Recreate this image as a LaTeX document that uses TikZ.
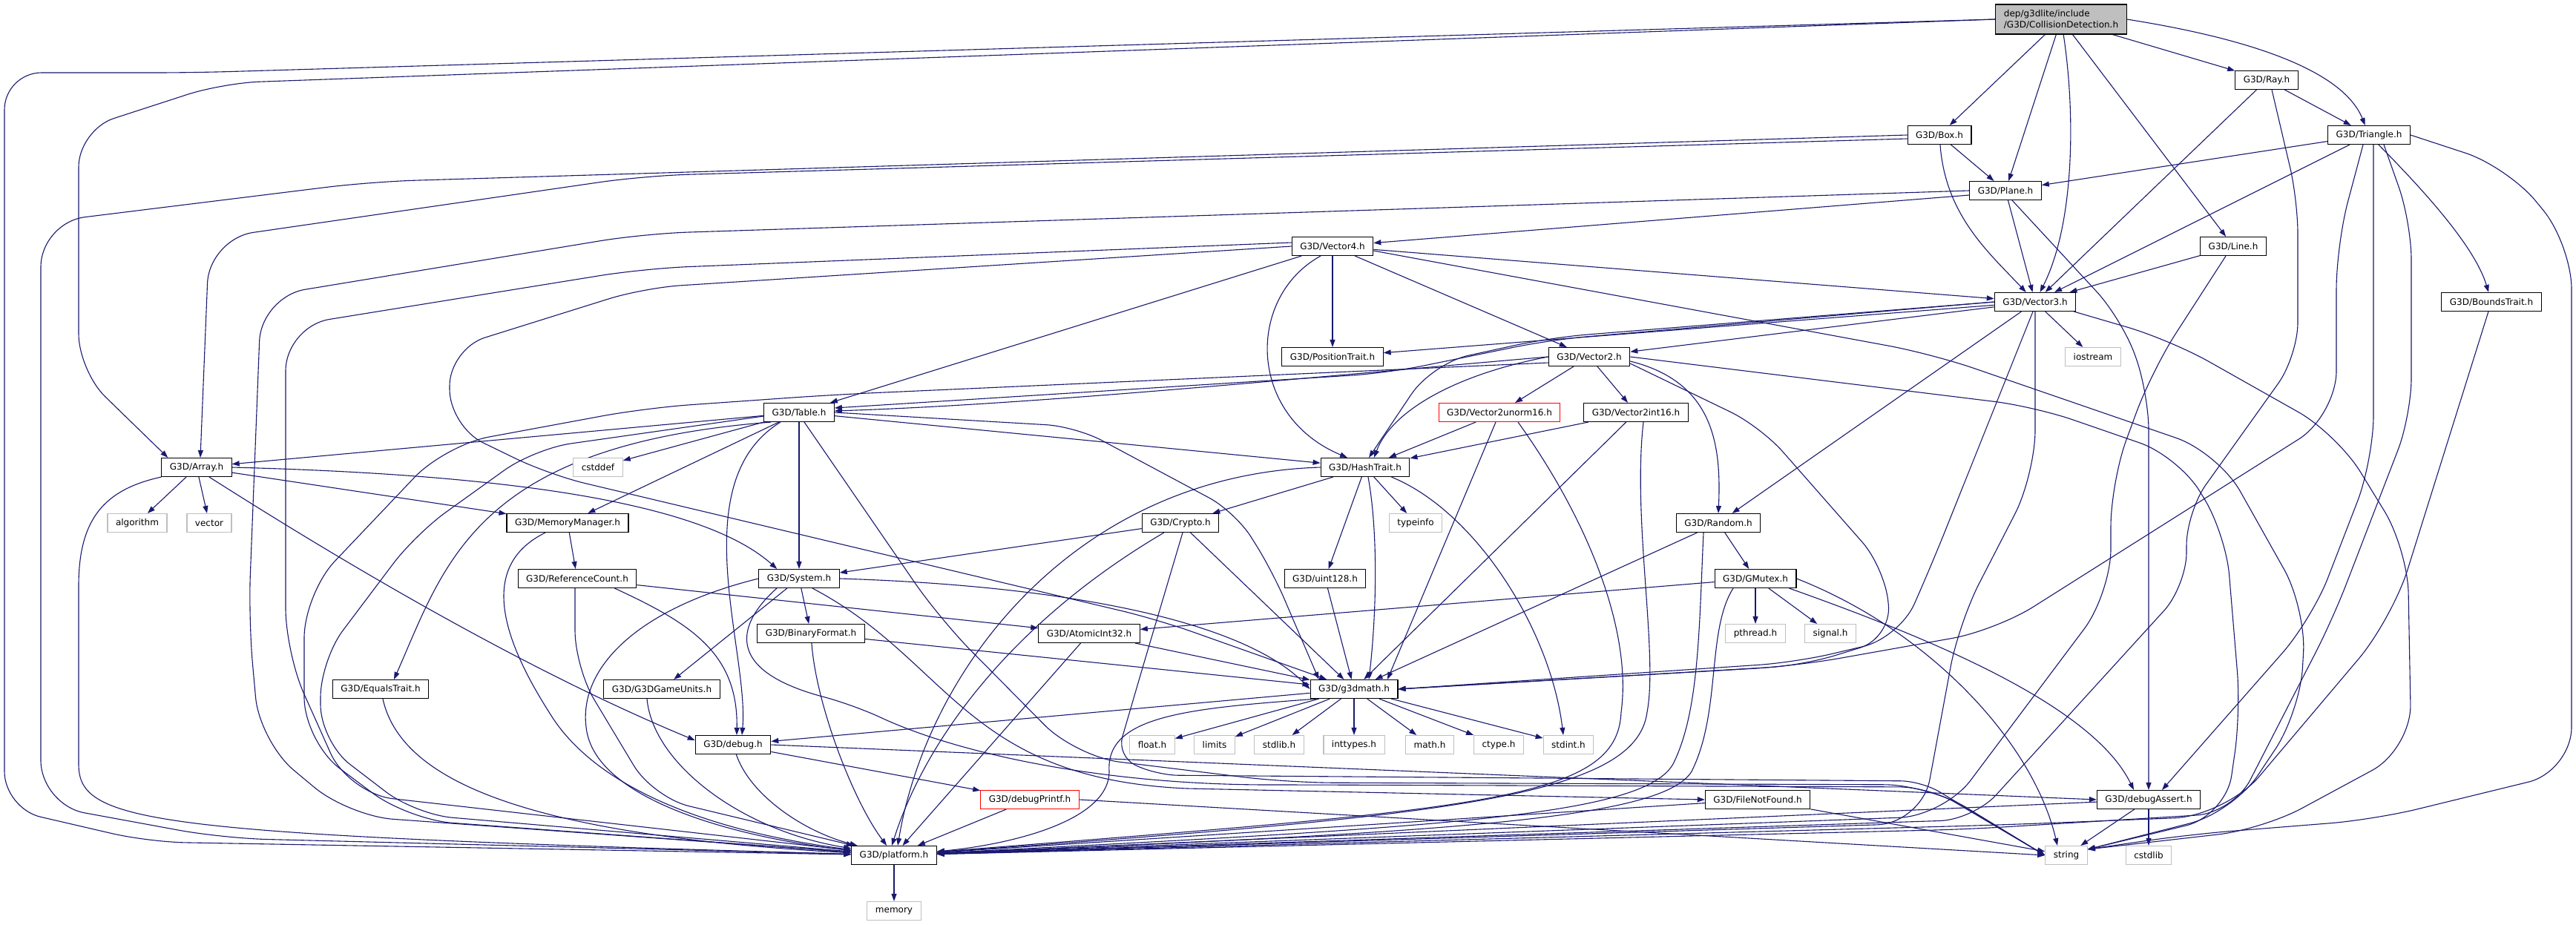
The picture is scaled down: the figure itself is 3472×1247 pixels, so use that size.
\documentclass[tikz,border=0pt]{standalone}
\usepackage{fontspec}
\setmainfont{DejaVu Sans}
\usetikzlibrary{arrows.meta,calc}
\definecolor{edgecol}{HTML}{191970}
\definecolor{sysgray}{HTML}{BFBFBF}
\pgfdeclarelayer{bg}
\pgfdeclarelayer{edges}
\pgfsetlayers{bg,edges,main}
\tikzset{
  nbox/.style={draw=black, fill=white, line width=1.1pt, minimum height=25pt, inner xsep=11pt, inner ysep=0pt, font=\fontsize{12}{15}\selectfont},
  hdr/.style={nbox},
  sys/.style={nbox, draw=sysgray},
  redb/.style={nbox, draw=red},
  rootb/.style={nbox, fill=sysgray, minimum height=40pt, align=left},
  e/.style={draw=edgecol, line width=1.1pt, -{Triangle[length=10pt,width=7pt]}},
}
\begin{document}
\begin{tikzpicture}[x=1pt,y=-1pt]
\useasboundingbox (0,0) rectangle (3472,1247);
\begin{pgfonlayer}{bg}
\fill[white] (0,0) rectangle (3472,1247);
\end{pgfonlayer}

\node[rootb] (CD) at (2778,26) {dep/g3dlite/include\\/G3D/CollisionDetection.h};
\node[hdr] (Ray) at (3055,108) {G3D/Ray.h};
\node[hdr] (Box) at (2614,182) {G3D/Box.h};
\node[hdr] (Tri) at (3193,182) {G3D/Triangle.h};
\node[hdr] (Plane) at (2703,257) {G3D/Plane.h};
\node[hdr] (Line) at (3010,332) {G3D/Line.h};
\node[hdr] (Vec4) at (1796,332) {G3D/Vector4.h};
\node[hdr] (Vec3) at (2743,407) {G3D/Vector3.h};
\node[hdr] (Bounds) at (3358,407) {G3D/BoundsTrait.h};
\node[hdr] (PosT) at (1796,481) {G3D/PositionTrait.h};
\node[hdr] (Vec2) at (2142,481) {G3D/Vector2.h};
\node[sys] (iostream) at (2821,481) {iostream};
\node[hdr] (Table) at (1077,556) {G3D/Table.h};
\node[redb] (unorm) at (2021,556) {G3D/Vector2unorm16.h};
\node[hdr] (int16) at (2205,556) {G3D/Vector2int16.h};
\node[hdr] (Array) at (265,630) {G3D/Array.h};
\node[sys] (cstddef) at (806,630) {cstddef};
\node[hdr] (Hash) at (1840,630) {G3D/HashTrait.h};
\node[sys] (algorithm) at (185,705) {algorithm};
\node[sys] (vector) at (282,705) {vector};
\node[hdr] (MemMgr) at (765,705) {G3D/MemoryManager.h};
\node[hdr] (Crypto) at (1591,705) {G3D/Crypto.h};
\node[sys] (typeinfo) at (1908,705) {typeinfo};
\node[hdr] (Random) at (2316,705) {G3D/Random.h};
\node[hdr] (RefCount) at (778,780) {G3D/ReferenceCount.h};
\node[hdr] (System) at (1077,780) {G3D/System.h};
\node[hdr] (uint128) at (1786,780) {G3D/uint128.h};
\node[hdr] (GMutex) at (2366,780) {G3D/GMutex.h};
\node[hdr] (BinFmt) at (1093,854) {G3D/BinaryFormat.h};
\node[hdr] (Atomic) at (1468,854) {G3D/AtomicInt32.h};
\node[sys] (pthread) at (2366,854) {pthread.h};
\node[sys] (signal) at (2467,854) {signal.h};
\node[hdr] (Equals) at (513,929) {G3D/EqualsTrait.h};
\node[hdr] (GameUnits) at (892,929) {G3D/G3DGameUnits.h};
\node[hdr] (g3dmath) at (1825,929) {G3D/g3dmath.h};
\node[hdr] (debug) at (988,1004) {G3D/debug.h};
\node[sys] (float) at (1553,1004) {float.h};
\node[sys] (limits) at (1637,1004) {limits};
\node[sys] (stdlib) at (1724,1004) {stdlib.h};
\node[sys] (inttypes) at (1825,1004) {inttypes.h};
\node[sys] (math) at (1927,1004) {math.h};
\node[sys] (ctype) at (2020,1004) {ctype.h};
\node[sys] (stdint) at (2114,1004) {stdint.h};
\node[redb] (dPrintf) at (1388,1078) {G3D/debugPrintf.h};
\node[hdr] (FNF) at (2369,1078) {G3D/FileNotFound.h};
\node[hdr] (dA) at (2896,1078) {G3D/debugAssert.h};
\node[hdr] (platform) at (1205,1153) {G3D/platform.h};
\node[sys] (string) at (2785,1153) {string};
\node[sys] (cstdlib) at (2896,1153) {cstdlib};
\node[sys] (memory) at (1205,1228) {memory};

\coordinate (strIn) at ($(string.east)+(0,-8)$);

\begin{pgfonlayer}{edges}
% CollisionDetection
\draw[e,rounded corners=50pt] (CD.west) -- (260,98) -- (6,98) -- (6,1090) -- (200,1135) -- (platform);
\draw[e,rounded corners=50pt] (CD.west) -- (300,112) -- (106,175) -- (106,500) -- ($(Array.north west)+(9,0)$);
\draw[e] (CD) -- (Box);
\draw[e] (CD) -- (Plane);
\draw[e] (CD) .. controls (2797,150) and (2797,300) .. (Vec3);
\draw[e] (CD) -- (Line);
\draw[e] (CD) -- (Ray);
\draw[e] (CD.east) .. controls (3050,55) and (3160,100) .. (Tri);
% Box
\draw[e,rounded corners=60pt] (Box.west) -- (500,245) -- (55,300) -- (55,1085) -- (300,1130) -- (platform);
\draw[e,rounded corners=60pt] ($(Box.west)+(0,5)$) -- (868,237) -- (282,322) -- ($(Array.north)+(5,0)$);
\draw[e] (Box) -- (Plane);
\draw[e] (Box) .. controls (2622,290) and (2680,340) .. (Vec3);
% Ray
\draw[e] (Ray) -- (Vec3);
\draw[e] (Ray) -- (Tri);
\draw[e,rounded corners=45pt] ($(Ray.south)+(7,0)$) -- (3097,270) -- (3097,480) -- (2947,690) -- (2947,790) -- (2660,1105) -- (platform);
% Triangle
\draw[e] (Tri) -- (Plane);
\draw[e] (Tri) -- (Vec3);
\draw[e] (Tri) .. controls (3260,250) and (3335,330) .. (Bounds);
\draw[e,rounded corners=60pt] ($(Tri.south)+(-8,0)$) -- (3149,330) -- (3149,560) -- (2690,850) -- (2420,898) -- (g3dmath.east);
\draw[e,rounded corners=60pt] ($(Tri.south)+(6,0)$) -- (3199,620) -- (3116,835) -- ($(dA.north)+(18,0)$);
\draw[e,rounded corners=50pt] ($(Tri.south)+(20,0)$) -- (3250,300) -- (3250,560) -- (3144,835) -- (3010,1096) -- (2650,1118) -- (platform);
\draw[e,rounded corners=60pt] (Tri.east) -- (3380,225) -- (3466,330) -- (3466,1040) -- (3200,1105) -- (2950,1125) -- (strIn);
% Plane
\draw[e,rounded corners=60pt] (Plane.west) -- (868,315) -- (352,400) -- (335,835) -- (350,1000) -- (470,1100) -- (platform);
\draw[e] ($(Plane.west)+(0,6)$) -- (Vec4);
\draw[e] (Plane) -- (Vec3);
\draw[e,rounded corners=50pt] ($(Plane.south)+(9,0)$) -- (2860,430) -- (2896,530) -- (dA.north);
% Line
\draw[e] (Line) -- (Vec3);
\draw[e,rounded corners=60pt] ($(Line.south)+(-10,0)$) -- (2900,500) -- (2845,650) -- (2845,800) -- (2620,1100) -- (platform);
% BoundsTrait
\draw[e,rounded corners=70pt] (Bounds) -- (3224,835) -- (3000,1100) -- (2700,1112) -- (platform);
% Vector3
\draw[e] (Vec3) -- (iostream);
\draw[e] (Vec3) -- (Random);
\draw[e,rounded corners=50pt] ($(Vec3.south)+(-3,0)$) -- (2604,760) -- (2560,860) -- (2420,893) -- (g3dmath.east);
\draw[e,rounded corners=60pt] (Vec3.south) -- (2743,640) -- (2640,840) -- (2590,1110) -- (platform);
\draw[e] (Vec3) -- (Vec2);
\draw[e] (Vec3) -- (PosT);
\draw[e,rounded corners=50pt] (Vec3.west) -- (2090,458) -- (1870,503) -- ($(Table.east)+(0,-6)$);
\draw[e,rounded corners=50pt] (Vec3.west) -- (2090,455) -- (1930,490) -- ($(Hash.north)+(5,0)$);
\draw[e,rounded corners=60pt] ($(Vec3.south east)+(-3,0)$) -- (2925,458) -- (3150,585) -- (3245,740) -- (3250,1010) -- (3050,1118) -- (strIn);
% Vector4
\draw[e] (Vec4) -- (Vec3);
\draw[e,rounded corners=60pt] ($(Vec4.east)+(0,6)$) -- (2604,477) -- (2990,610) -- (3108,820) -- (3100,960) -- (3010,1095) -- (strIn);
\draw[e] (Vec4) -- (Vec2);
\draw[e] (Vec4) -- (PosT);
\draw[e] ($(Vec4.south)+(-16,0)$) .. controls (1680,400) and (1680,560) .. ($(Hash.north)+(-24,0)$);
\draw[e] (Vec4) -- (Table);
\draw[e,rounded corners=50pt] (Vec4.west) -- (868,388) -- (606,470) -- (606,575) -- (740,640) -- (1560,835) -- (g3dmath);
\draw[e,rounded corners=60pt] ($(Vec4.west)+(0,-5)$) -- (868,362) -- (385,440) -- (385,880) -- (470,1070) -- (platform);
% Vector2
\draw[e,rounded corners=55pt] (Vec2.east) -- (2742,548) -- (2936,615) -- (3000,720) -- (3020,960) -- (3000,1100) -- (strIn);
\draw[e,rounded corners=60pt] ($(Vec2.west)+(0,8)$) -- (1125,532) -- (870,550) -- (600,600) -- (410,800) -- (410,1000) -- (550,1105) -- (platform);
\draw[e,rounded corners=45pt] ($(Vec2.south east)+(0,-4)$) -- (2373,575) -- (2540,765) -- (2550,860) -- (2430,897) -- (g3dmath.east);
\draw[e] (Vec2.west) .. controls (1750,510) and (1400,545) .. ($(Table.east)+(0,-2)$);
\draw[e] (Vec2.west) .. controls (1960,505) and (1875,555) .. ($(Hash.north)+(12,0)$);
\draw[e] (Vec2) -- (int16);
\draw[e] (Vec2) -- (unorm);
\draw[e] ($(Vec2.east)+(0,6)$) .. controls (2310,515) and (2320,600) .. (Random.north);
% Vector2unorm16
\draw[e] (unorm) -- (Hash);
\draw[e] ($(unorm.south)+(-5,0)$) -- ($(g3dmath.north)+(45,0)$);
\draw[e] ($(unorm.south)+(25,0)$) .. controls (2140,700) and (2200,850) .. (2185,960) .. controls (2180,1080) and (2000,1090) .. (platform);
% Vector2int16
\draw[e] (int16) -- (Hash);
\draw[e] (int16) -- (g3dmath);
\draw[e] ($(int16.south)+(10,0)$) .. controls (2200,700) and (2235,880) .. (2220,960) .. controls (2205,1075) and (1950,1100) .. (platform);
% Random
\draw[e] (Random) -- (g3dmath);
\draw[e] ($(Random.south)+(-20,0)$) .. controls (2290,850) and (2290,960) .. (2255,1030) .. controls (2215,1100) and (1950,1115) .. (platform);
\draw[e] (Random) -- (GMutex);
% GMutex
\draw[e] (GMutex) -- (Atomic);
\draw[e] (GMutex) -- (pthread);
\draw[e] (GMutex) -- (signal);
\draw[e] ($(GMutex.south east)+(-10,0)$) .. controls (2600,860) and (2820,950) .. ($(dA.north)+(-20,0)$);
\draw[e] (GMutex.east) .. controls (2600,850) and (2740,1000) .. ($(string.north)+(-12,0)$);
\draw[e] ($(GMutex.south)+(-30,0)$) .. controls (2300,850) and (2320,960) .. (2280,1040) .. controls (2240,1105) and (1950,1122) .. (platform);
% AtomicInt32
\draw[e] (Atomic) -- (platform);
\draw[e] (Atomic) -- (g3dmath);
% Table
\draw[e] (Table) -- (cstddef);
\draw[e,rounded corners=60pt] ($(Table.south)+(7,0)$) -- (1267,835) -- (1450,1020) -- (1736,1055) -- (2600,1058) -- (string.west);
\draw[e,rounded corners=50pt] ($(Table.west)+(0,5)$) -- (720,605) -- (560,720) -- (432,890) -- (432,1000) -- (560,1098) -- (platform);
\draw[e] (Table) -- (Array);
\draw[e] ($(Table.south)+(-25,0)$) .. controls (920,650) and (1010,880) .. ($(debug.north)+(12,0)$);
\draw[e] (Table) -- (System);
\draw[e,rounded corners=40pt] (Table.east) -- (1450,575) -- (1665,690) -- (1715,770) -- ($(g3dmath.north west)+(12,0)$);
\draw[e] ($(Table.south west)+(10,0)$) .. controls (640,600) and (600,760) .. ($(Equals.north)+(18,0)$);
\draw[e] (Table) -- (Hash);
\draw[e] (Table) -- (MemMgr);
% Array
\draw[e] (Array.south west) .. controls (140,660) and (106,700) .. (106,790) -- (106,1030) .. controls (106,1110) and (200,1125) .. (platform);
\draw[e] ($(Array.south)+(17,0)$) .. controls (450,750) and (700,900) .. ($(debug.west)+(0,-6)$);
\draw[e] (Array.east) .. controls (700,640) and (950,680) .. ($(System.north west)+(25,0)$);
\draw[e] (Array) -- (MemMgr);
\draw[e] (Array) -- (vector);
\draw[e] (Array) -- (algorithm);
% MemoryManager
\draw[e] ($(MemMgr.south)+(-30,0)$) .. controls (650,760) and (670,850) .. (740,960) .. controls (800,1060) and (950,1120) .. (platform);
\draw[e] (MemMgr) -- (RefCount);
% ReferenceCount
\draw[e,rounded corners=50pt] ($(RefCount.south)+(-3,0)$) -- (775,900) -- (880,1075) -- (platform);
\draw[e] ($(RefCount.south east)+(-30,0)$) .. controls (930,840) and (995,880) .. ($(debug.north)+(5,0)$);
\draw[e] (RefCount) -- (Atomic);
% System
\draw[e] (System.west) .. controls (860,820) and (780,900) .. (790,980) .. controls (800,1080) and (1000,1130) .. (platform);
\draw[e] (System.east) .. controls (1450,790) and (1680,840) .. (g3dmath.west);
\draw[e] (System) -- (GameUnits);
\draw[e] (System) -- (BinFmt);
\draw[e] ($(System.south)+(18,0)$) .. controls (1280,890) and (1300,1050) .. (1600,1063) -- (FNF.west);
\draw[e,rounded corners=40pt] ($(System.south)+(-30,0)$) .. controls (1005,830) and (960,900) .. (1150,950) .. controls (1300,1020) and (1500,1058) .. (1750,1058) -- (2600,1061) -- (string.west);
\draw[e] (Crypto) -- (System);
% leaves into platform / string
\draw[e] ($(GameUnits.south)+(-20,0)$) .. controls (880,1030) and (1000,1120) .. (platform);
\draw[e] (BinFmt) .. controls (1100,950) and (1150,1080) .. (platform);
\draw[e] (BinFmt) -- (g3dmath);
\draw[e] (FNF) -- (platform);
\draw[e] (FNF) -- (string);
\draw[e] (Equals) .. controls (540,1050) and (700,1125) .. (platform);
% debug
\draw[e] (debug) .. controls (1010,1070) and (1080,1120) .. (platform);
\draw[e] (debug) -- (dPrintf);
\draw[e] (debug.east) -- (dA.west);
\draw[e] (dPrintf) -- (platform);
\draw[e] (dPrintf.east) -- (string.west);
\draw[e] (dA) -- (platform);
\draw[e] (dA) -- (string);
\draw[e] (dA) -- (cstdlib);
% g3dmath
\draw[e] (g3dmath) -- (debug);
\draw[e] ($(g3dmath.south west)+(10,0)$) .. controls (1600,955) and (1490,965) .. (1495,1040) .. controls (1495,1110) and (1350,1140) .. (platform);
\draw[e] (g3dmath) -- (float);
\draw[e] (g3dmath) -- (limits);
\draw[e] (g3dmath) -- (stdlib);
\draw[e] (g3dmath) -- (inttypes);
\draw[e] (g3dmath) -- (math);
\draw[e] (g3dmath) -- (ctype);
\draw[e] (g3dmath) -- (stdint);
% HashTrait
\draw[e] (Hash.west) .. controls (1450,640) and (1250,900) .. ($(platform.north)+(5,0)$);
\draw[e] (Hash) -- (Crypto);
\draw[e] ($(Hash.south)+(4,0)$) .. controls (1858,720) and (1855,830) .. ($(g3dmath.north)+(20,0)$);
\draw[e] (Hash) -- (uint128);
\draw[e] (Hash) -- (typeinfo);
\draw[e] ($(Hash.south east)+(-25,0)$) .. controls (1990,690) and (2090,850) .. ($(stdint.north)+(-7,0)$);
% Crypto
\draw[e] (Crypto) .. controls (1370,835) and (1250,990) .. ($(platform.north)+(-3,0)$);
\draw[e] (Crypto) -- (g3dmath);
\draw[e,rounded corners=28pt] ($(Crypto.south)+(3,0)$) -- (1540,900) -- (1505,1020) -- (1560,1045) -- (2590,1053) -- (string.west);
% uint128, platform
\draw[e] (uint128) -- (g3dmath);
\draw[e] (platform) -- (memory);
\end{pgfonlayer}
\end{tikzpicture}
\end{document}
